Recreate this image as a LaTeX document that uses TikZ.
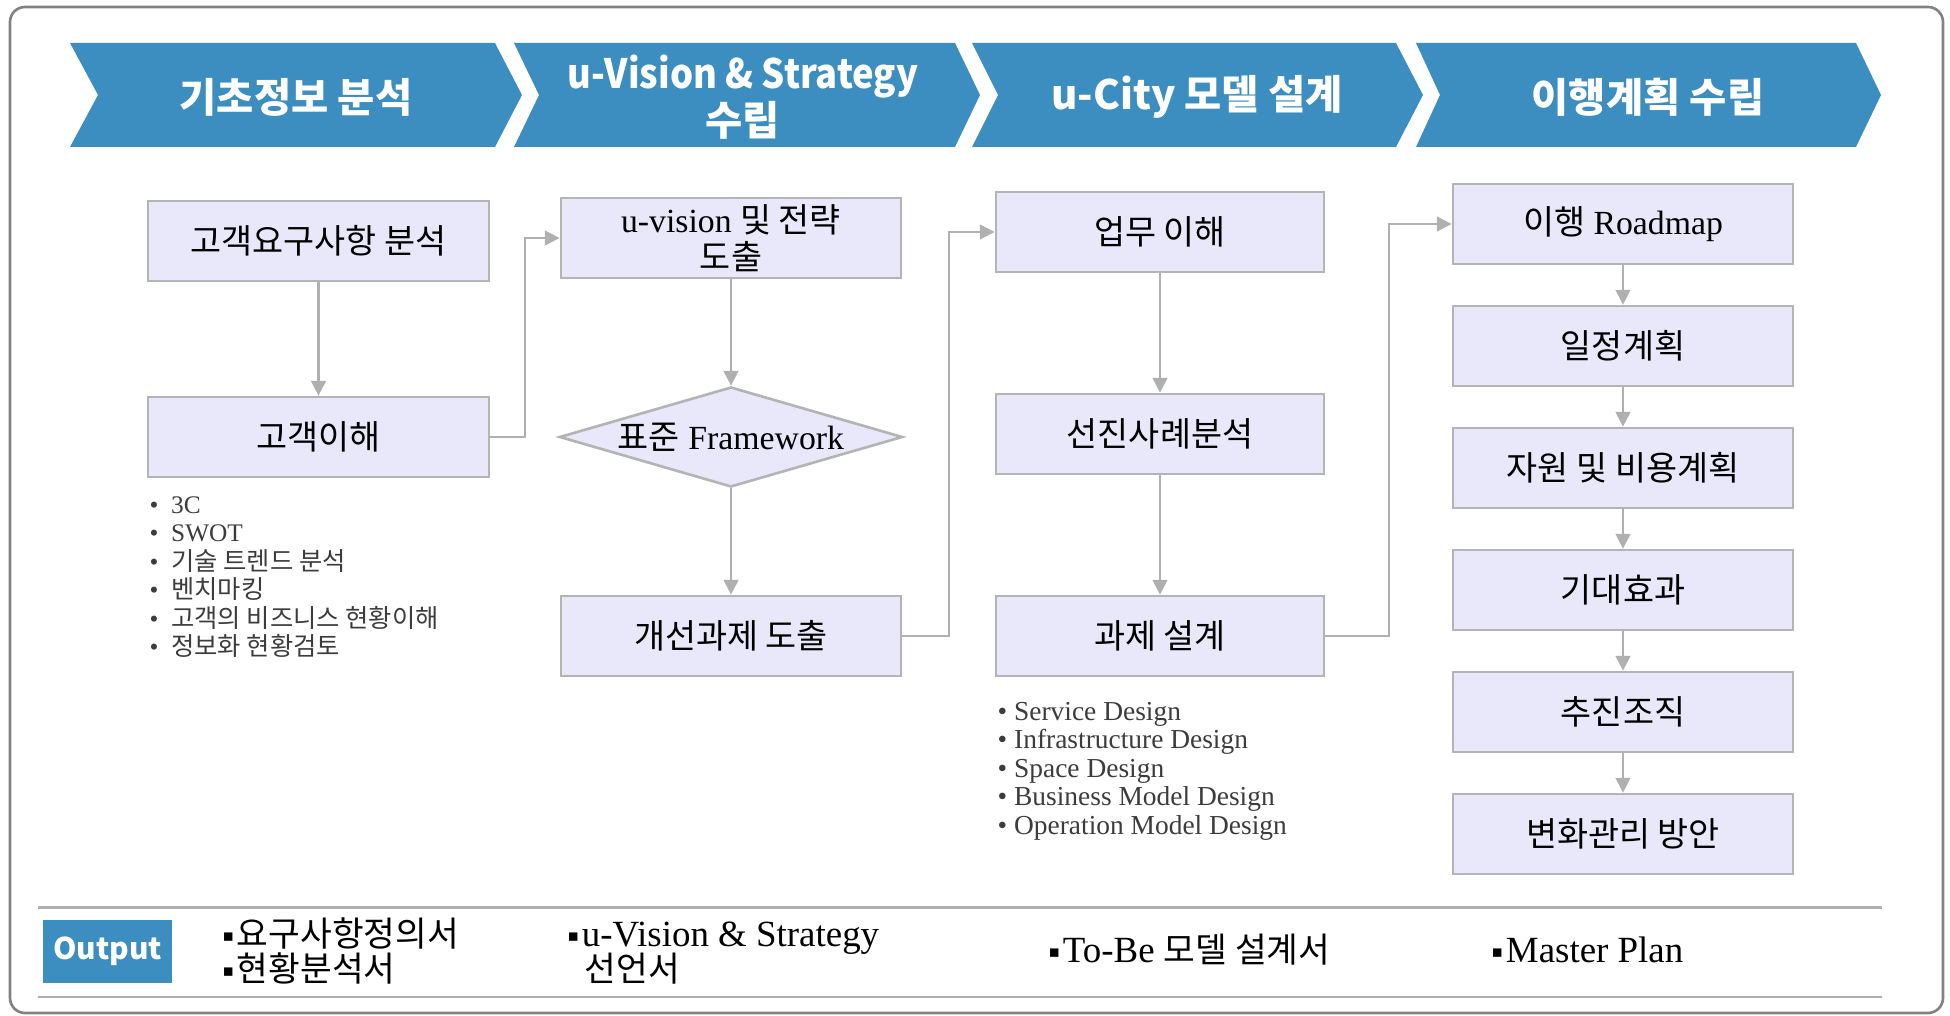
\documentclass[tikz,border=0pt]{standalone}
\usepackage{graphicx}
\usepackage{fontspec}
\setmainfont{Liberation Serif}
\newfontfamily\kr{Noto Sans CJK KR}
\newfontfamily\headfont{Noto Sans CJK KR}
\newfontfamily\symfont{DejaVu Sans}
\usetikzlibrary{arrows.meta,shapes.geometric}
\newcommand\kor[1]{{\kr #1}}
\newcommand\korsm[1]{{\kr\fontsize{9.8}{11}\selectfont #1}}
\newcommand\sqb{{\symfont\fontsize{4.8}{5}\selectfont\raisebox{1.4pt}{▪}}\kern0.8pt}
\definecolor{chevblue}{RGB}{61,142,192}
\definecolor{boxfill}{RGB}{232,232,250}
\definecolor{boxline}{RGB}{180,180,180}
\definecolor{arrgray}{RGB}{176,176,176}
\definecolor{sepgray}{RGB}{175,175,175}
\definecolor{framegray}{RGB}{130,130,130}
\definecolor{listgray}{RGB}{60,60,60}
\begin{document}
\begin{tikzpicture}[x=0.01cm,y=-0.01cm,
  box/.style={draw=boxline, fill=boxfill, line width=0.75pt, minimum height=0.8cm, inner sep=0pt, align=center, font=\fontsize{9.6}{10.5}\selectfont},
  c1/.style={box, minimum width=3.41cm},
  c2/.style={box, minimum width=3.40cm},
  c3/.style={box, minimum width=3.28cm},
  c4/.style={box, minimum width=3.40cm},
  dia/.style={diamond, draw=boxline, fill=boxfill, line width=0.75pt, minimum width=3.43cm, minimum height=1cm, inner sep=0pt, aspect=3.43},
  lbl/.style={inner sep=0pt, align=center, font=\fontsize{9.6}{10.5}\selectfont},
  arr/.style={draw=arrgray, line width=0.6pt, -{Triangle[length=4.2pt,width=4.2pt]}},
  chev/.style={fill=chevblue},
  head/.style={text=white, inner sep=0pt, align=center, font=\headfont\bfseries\fontsize{11.5}{11.7}\selectfont},
  lstA/.style={inner sep=0pt, anchor=base west, text=listgray, font=\fontsize{7.2}{8}\selectfont},
  lstB/.style={inner sep=0pt, anchor=base west, text=listgray, font=\fontsize{7.8}{8}\selectfont},
  outtxt/.style={inner sep=0pt, anchor=base west, font=\fontsize{10.5}{11}\selectfont},
  outbox/.style={fill=chevblue, text=white, minimum width=1.29cm, minimum height=0.63cm, inner sep=0pt, font=\headfont\bfseries\fontsize{8.5}{9}\selectfont},
  sep/.style={draw=sepgray, line width=0.85pt}
]
\useasboundingbox (0,0) rectangle (1950,1016);
% outer frame
\draw[framegray, line width=0.75pt, rounded corners=0.15cm] (10,7) rectangle (1943,1013);
% chevrons
\fill[chev] (70,43) -- (495,43) -- (522,95) -- (495,147) -- (70,147) -- (98,95) -- cycle;
\fill[chev] (514,43) -- (955,43) -- (980,95) -- (955,147) -- (514,147) -- (539,95) -- cycle;
\fill[chev] (972,43) -- (1396,43) -- (1423,95) -- (1396,147) -- (972,147) -- (998,95) -- cycle;
\fill[chev] (1416,43) -- (1856,43) -- (1881,95) -- (1856,147) -- (1416,147) -- (1440,95) -- cycle;
\node[head] (h1) at (296,97) {기초정보 분석};
\node[head] (h2) at (743,97) {\scalebox{0.9}[1]{u-Vision \& Strategy}\\수립};
\node[head] (h3) at (1197,97) {u-City 모델 설계};
\node[head] (h4) at (1648,97) {이행계획 수립};
% column 1
\node[c1] (b11) at (318.5,241) {\kor{고객요구사항 분석}};
\node[c1] (b12) at (318.5,437) {\kor{고객이해}};
% column 2
\node[c2] (b21) at (731,238) {u-vision \kor{및 전략}\\\kor{도출}};
\node[dia] (d22) at (731,437) {};
\node[lbl] (d22t) at (d22.center) {\kor{표준} Framework};
\node[c2] (b23) at (731,636) {\kor{개선과제 도출}};
% column 3
\node[c3] (b31) at (1160,232) {\kor{업무 이해}};
\node[c3] (b32) at (1160,434) {\kor{선진사례분석}};
\node[c3] (b33) at (1160,636) {\kor{과제 설계}};
% column 4
\node[c4] (b41) at (1623,224) {\kor{이행} Roadmap};
\node[c4] (b42) at (1623,346) {\kor{일정계획}};
\node[c4] (b43) at (1623,468) {\kor{자원 및 비용계획}};
\node[c4] (b44) at (1623,590) {\kor{기대효과}};
\node[c4] (b45) at (1623,712) {\kor{추진조직}};
\node[c4] (b46) at (1623,834) {\kor{변화관리 방안}};
% connectors
\draw[arr] (b11) -- (b12);
\draw[arr] (b12.east) -- ++(35,0) |- (b21.west);
\draw[arr] (b21) -- (d22);
\draw[arr] (d22) -- (b23);
\draw[arr] (b23.east) -- ++(47,0) |- (b31.west);
\draw[arr] (b31) -- (b32);
\draw[arr] (b32) -- (b33);
\draw[arr] (b33.east) -- ++(64,0) |- (b41.west);
\draw[arr] (b41) -- (b42);
\draw[arr] (b42) -- (b43);
\draw[arr] (b43) -- (b44);
\draw[arr] (b44) -- (b45);
\draw[arr] (b45) -- (b46);
% lists
\node[lstA] (l1) at (149,513.5) {•\enspace 3C};
\node[lstA] (l2) at (149,542) {•\enspace SWOT};
\node[lstA] (l3) at (149,570.5) {•\enspace\kor{기술 트렌드 분석}};
\node[lstA] (l4) at (149,599) {•\enspace\kor{벤치마킹}};
\node[lstA] (l5) at (149,627.5) {•\enspace\kor{고객의 비즈니스 현황이해}};
\node[lstA] (l6) at (149,656) {•\enspace\kor{정보화 현황검토}};
\node[lstB] (m1) at (997,720.5) {• Service Design};
\node[lstB] (m2) at (997,749) {• Infrastructure Design};
\node[lstB] (m3) at (997,777.5) {• Space Design};
\node[lstB] (m4) at (997,806) {• Business Model Design};
\node[lstB] (m5) at (997,834.5) {• Operation Model Design};
% output section
\draw[sep] (38,908) -- (1882,908);
\draw[sep] (38,997) -- (1882,997);
\node[outbox] (out) at (107.5,951.5) {Output};
\node[outtxt] (o11) at (222,946.5) {\sqb\korsm{요구사항정의서}};
\node[outtxt] (o12) at (222,981.5) {\sqb\korsm{현황분석서}};
\node[outtxt] (o21) at (567,946.5) {\sqb u-Vision \& Strategy};
\node[outtxt] (o22) at (584,981.5) {\korsm{선언서}};
\node[outtxt] (o3) at (1048,962.5) {\sqb To-Be \korsm{모델 설계서}};
\node[outtxt] (o4) at (1491,962.5) {\sqb Master Plan};
\end{tikzpicture}
\end{document}
